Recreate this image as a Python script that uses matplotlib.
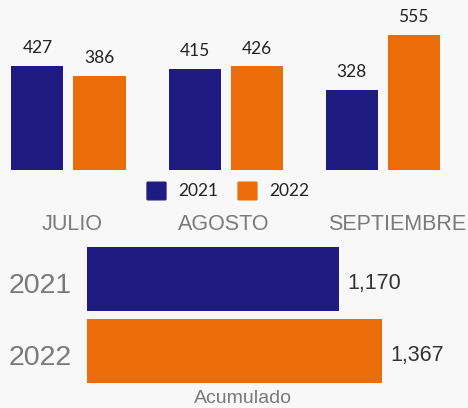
import matplotlib.pyplot as plt
from matplotlib.patches import FancyBboxPatch
import numpy as np

months = ["JULIO", "AGOSTO", "SEPTIEMBRE"]
years = ["2021", "2022"]
v2021 = [427, 415, 328]
v2022 = [386, 426, 555]
totals = [1170, 1367]
totals_txt = ["1,170", "1,367"]

navy = "#1e1b82"
orange = "#eb6d0a"
bg = "#f8f8f8"
W, H = 468, 408


def box(l, t, r, b):
    # pixel box (from top-left) -> figure fraction rect
    return [l / W, 1 - b / H, (r - l) / W, (b - t) / H]


fig = plt.figure(figsize=(W / 100, H / 100), dpi=100, facecolor=bg)

# monthly bars
ax = fig.add_axes(box(0, 20, W, 170))
ax.set_facecolor(bg)
x = np.arange(len(months))
bw = 52 / 157
off = 31 / 157
b1 = ax.bar(x - off, v2021, bw, color=navy, label=years[0])
b2 = ax.bar(x + off, v2022, bw, color=orange, label=years[1])
for bars in (b1, b2):
    for r in bars:
        ax.annotate(f"{int(r.get_height())}", (r.get_x() + r.get_width() / 2, r.get_height()),
                    xytext=(0, 7), textcoords="offset points", ha="center", va="bottom",
                    fontsize=12.5, family="Lato", color="#222222")
ax.set_xlim(-68.5 / 157, (W - 68.5) / 157)
ax.set_ylim(0, 150 / 0.2436)
ax.axis("off")

# month labels
shift = [0.02, -0.01, 0.095]
for i, m in enumerate(months):
    ax.text(i + shift[i], -54 / 0.2436, m, ha="center", va="center",
            fontsize=15.5, family="Liberation Sans", color="#7a7a7a")

# legend
lx = [148, 239]
for i, (lbl, col) in enumerate(zip(years, [navy, orange])):
    fig.patches.append(FancyBboxPatch((lx[i] / W, 1 - 199 / H), 17 / W, 16 / H,
                                      boxstyle="round,pad=0.002", color=col,
                                      transform=fig.transFigure))
    fig.text((lx[i] + 30) / W, 1 - 191 / H, lbl, ha="left", va="center",
             fontsize=12.5, family="Lato", color="#222222")

# cumulative bars
ax2 = fig.add_axes(box(87, 243, W, 387))
ax2.set_facecolor(bg)
y = np.arange(len(years))
ax2.barh(y, totals, 0.9, color=[navy, orange])
ax2.set_ylim(1.5, -0.5)
ax2.set_xlim(0, (W - 87) / 0.2155)
for yi, t, s, yr in zip(y, totals, totals_txt, years):
    ax2.annotate(s, (t, yi), xytext=(6, -3), textcoords="offset points",
                 ha="left", va="center", fontsize=15.5, family="Liberation Sans",
                 color="#333333")
    ax2.annotate(yr, (0, yi), xytext=(-11, -5), textcoords="offset points",
                 ha="right", va="center", fontsize=20.5, family="Liberation Sans",
                 color="#7a7a7a", annotation_clip=False)
ax2.set_xticks([])
ax2.set_yticks([])
for s in ax2.spines.values():
    s.set_visible(False)

fig.text(243 / W, 1 - 407 / H, "Acumulado", ha="center", va="bottom",
         fontsize=14, family="Liberation Sans", color="#7a7a7a")

fig.savefig("out.png", dpi=100, facecolor=bg)
